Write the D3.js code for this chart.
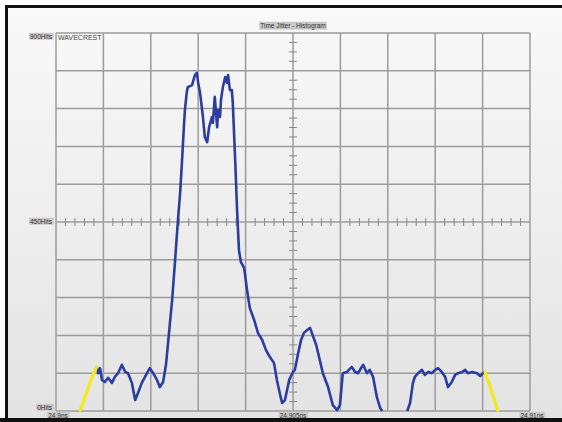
<!DOCTYPE html>
<html>
<head>
<meta charset="utf-8">
<script src="https://cdn.jsdelivr.net/npm/d3@7"></script>
<style>
  html, body { margin: 0; padding: 0; background: #fff; }
  svg { display: block; }
  text { font-family: "Liberation Sans", "DejaVu Sans", sans-serif; }
</style>
</head>
<body>
<script>
// Time offset from 24.9 ns, in picoseconds, and histogram counts (hits).
const offsetPs = [0.86, 0.89, 0.93, 0.97, 1.03, 1.10, 1.18, 1.24, 1.31, 1.39, 1.46, 1.52, 1.60, 1.67, 1.73, 1.81, 1.92, 1.98,
  2.05, 2.13, 2.19, 2.26, 2.32, 2.36, 2.41, 2.45, 2.51, 2.57, 2.62, 2.66, 2.70, 2.72, 2.76, 2.78, 2.87, 2.93, 2.97, 3.00,
  3.04, 3.10, 3.14, 3.19, 3.23, 3.29, 3.31, 3.35, 3.40, 3.42, 3.46, 3.48, 3.52, 3.57, 3.61, 3.63, 3.67, 3.71, 3.73, 3.78,
  3.82, 3.86, 3.90, 3.97, 4.03, 4.09, 4.18, 4.26, 4.35, 4.43, 4.51, 4.60, 4.66, 4.73, 4.77, 4.83, 4.92, 5.00, 5.04, 5.11,
  5.17, 5.23, 5.30, 5.36, 5.42, 5.49, 5.53, 5.63, 5.74, 5.84, 5.93, 5.99, 6.05, 6.14, 6.24, 6.31, 6.37, 6.48, 6.56, 6.62,
  6.69, 6.77, 6.84, 6.88, 7.15, 7.41, 7.47, 7.53, 7.57, 7.64, 7.72, 7.78, 7.85, 7.93, 8.00, 8.06, 8.14, 8.21, 8.27, 8.35,
  8.42, 8.48, 8.57, 8.63, 8.69, 8.78, 8.88, 8.95, 9.01, 9.05];
const hits = [105, 90, 102, 74, 69, 79, 67, 81, 90, 110, 93, 90, 67, 26, 43, 67, 90, 102,
  90, 74, 57, 69, 110, 157, 217, 264, 355, 450, 521, 598, 681, 717, 760, 771, 776, 800, 805, 781,
  757, 700, 652, 640, 676, 700, 686, 748, 676, 717, 700, 740, 771, 795, 781, 800, 764, 764, 733, 598,
  479, 383, 355, 340, 288, 245, 217, 186, 169, 145, 129, 114, 74, 38, 19, 26, 74, 93, 98, 138,
  169, 186, 193, 198, 179, 157, 138, 90, 57, 14, 2, 14, 90, 93, 105, 93, 90, 110, 90, 98,
  81, 33, 7, 0, null, 0, 19, 67, 81, 90, 98, 86, 93, 90, 98, 102, 93, 81, 57, 69,
  86, 90, 93, 98, 90, 93, 90, 83, 90, 93];

// Cursor markers at the two ends of the histogram.
const leftCursorPs = [0.51, 0.59, 0.68, 0.76, 0.86];
const leftCursorHits = [2, 26, 55, 81, 105];
const rightCursorPs = [9.05, 9.14, 9.22, 9.32];
const rightCursorHits = [93, 64, 36, 2];

const yTickValues = [0, 450, 900];
const yTickLabels = ["0Hits", "450Hits", "900Hits"];
const xTickValues = [0, 5, 10];
const xTickLabels = ["24.9ns", "24.905ns", "24.91ns"];
const chartTitle = "Time Jitter - Histogram";
const brand = "WAVECREST";

const W = 562, H = 422;
const plot = { left: 56, right: 530, top: 33, bottom: 411 };

const svg = d3.select("body").append("svg").attr("width", W).attr("height", H);

const defs = svg.append("defs");
const bg = defs.append("linearGradient").attr("id", "bg").attr("x1", 0).attr("y1", 0).attr("x2", 0).attr("y2", 1);
bg.append("stop").attr("offset", "0%").attr("stop-color", "#f9f9f9");
bg.append("stop").attr("offset", "100%").attr("stop-color", "#e3e3e3");

svg.append("rect").attr("width", W).attr("height", H).attr("fill", "#ffffff");
svg.append("rect").attr("x", 5).attr("y", 5).attr("width", W - 5).attr("height", H - 5).attr("fill", "url(#bg)");

const x = d3.scaleLinear().domain([0, 10]).range([plot.left, plot.right]);
const y = d3.scaleLinear().domain([0, 900]).range([plot.bottom, plot.top]);

// 10 x 10 grid
const grid = svg.append("g").attr("stroke", "#9c9c9c").attr("stroke-width", 1.5).attr("fill", "none");
grid.selectAll(".v").data(d3.range(0, 10.001, 1)).join("line")
  .attr("x1", d => x(d)).attr("x2", d => x(d)).attr("y1", plot.top).attr("y2", plot.bottom);
grid.selectAll(".h").data(d3.range(0, 900.001, 90)).join("line")
  .attr("y1", d => y(d)).attr("y2", d => y(d)).attr("x1", plot.left).attr("x2", plot.right);

// minor ticks on the centre cross: 5 per horizontal division, 4 per vertical division
const minor = svg.append("g").attr("stroke", "#8a8a8a").attr("stroke-width", 1);
minor.selectAll(".mx").data(d3.range(0, 10.001, 0.2).filter(v => Math.abs(v - Math.round(v)) > 1e-6)).join("line")
  .attr("x1", d => x(d)).attr("x2", d => x(d)).attr("y1", y(450) - 4).attr("y2", y(450) + 4);
minor.selectAll(".my").data(d3.range(0, 900.001, 22.5).filter(v => Math.abs(v / 90 - Math.round(v / 90)) > 1e-6)).join("line")
  .attr("y1", d => y(d)).attr("y2", d => y(d)).attr("x1", x(5) - 4).attr("x2", x(5) + 4);

// labels with grey backing boxes
function boxedLabel(g, tx, ty, str, anchor, size) {
  const t = g.append("text").attr("x", tx).attr("y", ty).attr("font-size", size)
    .attr("text-anchor", anchor).attr("dominant-baseline", "middle").attr("fill", "#333").text(str);
  const b = t.node().getBBox();
  g.insert("rect", () => t.node()).attr("x", b.x - 1).attr("y", b.y).attr("width", b.width + 2).attr("height", b.height)
    .attr("fill", "#c9c9c9");
}

const labels = svg.append("g");
yTickValues.forEach((v, i) => boxedLabel(labels, 52, y(v) + (v === 900 ? 4 : (v === 0 ? -3 : 0)), yTickLabels[i], "end", 6.5));
xTickValues.forEach((v, i) => boxedLabel(labels, x(v) + (i === 0 ? 2 : (i === 2 ? 2 : 0)), 416, xTickLabels[i], "middle", 6.5));
boxedLabel(labels, x(5), 26, chartTitle, "middle", 6.5);
labels.append("text").attr("x", plot.left + 2).attr("y", 38).attr("font-size", 7).attr("dominant-baseline", "middle")
  .attr("fill", "#444").text(brand);

// histogram trace
const pts = offsetPs.map((t, i) => ({ t, v: hits[i] }));
const line = d3.line().defined(d => d.v != null).x(d => x(d.t)).y(d => y(d.v));
svg.append("path").datum(pts).attr("d", line)
  .attr("fill", "none").attr("stroke", "#2b3d9e").attr("stroke-width", 2.6).attr("stroke-linejoin", "round");

// cursors
const cursorLine = d3.line().x(d => x(d[0])).y(d => y(d[1]));
[[leftCursorPs, leftCursorHits], [rightCursorPs, rightCursorHits]].forEach(([ts, vs]) => {
  svg.append("path").datum(ts.map((t, i) => [t, vs[i]])).attr("d", cursorLine)
    .attr("fill", "none").attr("stroke", "#f2ea1c").attr("stroke-width", 3.2).attr("stroke-linecap", "round");
});

// frame
svg.append("rect").attr("x", 5).attr("y", 5).attr("width", 3).attr("height", H - 5).attr("fill", "#111");
svg.append("rect").attr("x", 5).attr("y", 5).attr("width", W - 5).attr("height", 3).attr("fill", "#111");
svg.append("rect").attr("x", 0).attr("y", 418).attr("width", W).attr("height", 4).attr("fill", "#111");
</script>
</body>
</html>
